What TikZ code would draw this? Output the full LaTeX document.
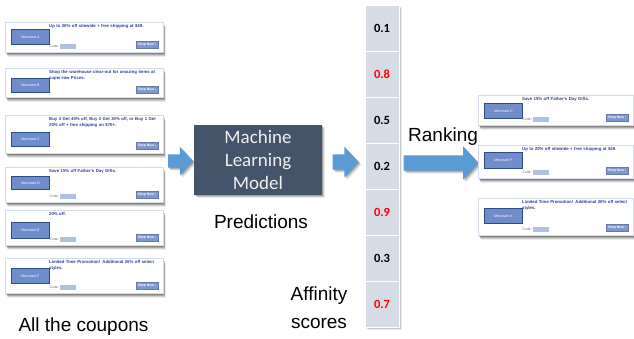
\documentclass[tikz,border=0pt]{standalone}
\usepackage{fontspec}
\setmainfont{Liberation Sans}
\newfontfamily\carlito{Carlito}
\usetikzlibrary{shapes.arrows,shadows,calc}
\definecolor{arrowblue}{HTML}{5B9BD5}
\definecolor{mlbox}{HTML}{44546A}
\definecolor{cellgray}{HTML}{D6DCE5}
\definecolor{numred}{HTML}{FF0000}
\definecolor{couponblue}{HTML}{2E3D99}
\definecolor{merchfill}{HTML}{6F8CCB}
\definecolor{merchdraw}{HTML}{2C4A8C}
\definecolor{shopfill}{HTML}{7D97CF}
\definecolor{codefill}{HTML}{AFC0E2}
\definecolor{cardborder}{HTML}{D5DBEA}
\newcommand{\cardw}{158}
% #1 name #2 x #3 y #4 h #5 merchant top offset #6 merchant h #7 letter #8 text #9 code flag
\newcommand{\coupon}[9]{%
  \node[card, minimum width=\cardw, minimum height=#4, anchor=north west] (#1) at (#2,#3) {};
  \node[merch, minimum height=#6, anchor=north west] (#1m) at (#2+6,#3+#5) {Merchant #7};
  \node[ctext, anchor=north west] (#1t) at (#2+44,#3+2.5) {#8};
  \node[shop, anchor=south east] (#1s) at (#2+\cardw-5,#3+#4-4) {Shop Now ›};
  \ifnum#9=1
    \node[codelbl, anchor=south west] (#1c) at (#2+44,#3+#4-4) {Code:};
    \node[codebox, anchor=west] (#1cb) at (#1c.east) {};
  \fi
}
\tikzset{
  softshadow/.style={
    drop shadow={shadow xshift=2.5pt, shadow yshift=-5pt, fill=black, opacity=0.08},
    drop shadow={shadow xshift=2pt, shadow yshift=-4pt, fill=black, opacity=0.12},
    drop shadow={shadow xshift=1.5pt, shadow yshift=-3pt, fill=black, opacity=0.18},
    drop shadow={shadow xshift=1pt, shadow yshift=-2pt, fill=black, opacity=0.22}},
  card/.style={draw=cardborder, line width=0.5pt, fill=white, inner sep=0, softshadow},
  merch/.style={draw=merchdraw, line width=0.7pt, fill=merchfill, minimum width=38, inner sep=0,
    font=\fontsize{3.6}{4}\selectfont, text=white},
  ctext/.style={inner sep=0, text width=110, align=left, text=couponblue,
    font=\fontsize{4.3}{5.3}\selectfont\bfseries},
  shop/.style={fill=shopfill, draw=shopfill!80!black, line width=0.3pt, minimum width=22, minimum height=7, inner sep=0,
    font=\fontsize{3.4}{4}\selectfont\bfseries, text=white},
  codelbl/.style={inner sep=0.5pt, text=black!60, font=\fontsize{3.4}{3.8}\selectfont},
  codebox/.style={fill=codefill, minimum width=16, minimum height=5, inner sep=0},
  boxshadow/.style={
    drop shadow={shadow xshift=3pt, shadow yshift=-3pt, fill=black, opacity=0.08},
    drop shadow={shadow xshift=2pt, shadow yshift=-2pt, fill=black, opacity=0.15},
    drop shadow={shadow xshift=1pt, shadow yshift=-1pt, fill=black, opacity=0.2}},
  fatarrow/.style={single arrow, fill=arrowblue, inner xsep=0, single arrow tip angle=94, boxshadow},
  cell/.style={fill=cellgray, draw=white, line width=0.8pt, minimum width=34, minimum height=46, inner sep=0,
    font=\carlito\bfseries\fontsize{12.5}{14}\selectfont},
  label/.style={inner sep=0, font=\fontsize{19}{28}\selectfont, align=center},
}
\begin{document}
\begin{tikzpicture}[x=1pt,y=-1pt]
\useasboundingbox[fill=white] (0,0) rectangle (634,339);
% left coupons
\coupon{cA}{5}{22}{30}{7}{15}{A}{Up to 20\% off sitewide + free shipping at \$49.}{1}
\coupon{cB}{5}{68}{29}{10}{14}{B}{Shop the warehouse clear-out for amazing items at super-low Prices.}{0}
\coupon{cC}{5}{115}{38}{17}{14}{C}{Buy 3 Get 40\% off, Buy 2 Get 30\% off, or Buy 1 Get 20\% off + free shipping on \$70+.}{0}
\coupon{cD}{5}{167}{35}{9}{13}{D}{Save 15\% off Father's Day Gifts.}{1}
\coupon{cE}{5}{210}{35}{12}{16}{E}{20\% off.}{1}
\coupon{cF}{5}{258}{35}{10}{15}{F}{Limited Time Promotion! Additional 20\% off select styles.}{1}
\node[label, anchor=base] (all) at (83.5,331) {All the coupons};
% arrow 1
\node[fatarrow, inner ysep=6.5, minimum height=25, single arrow head extend=7.5] (a1) at (177.5,161) {};
% ML model
\node[fill=mlbox, minimum width=128, minimum height=70, inner sep=0, text=white!94!black,
  font=\carlito\fontsize{19}{23}\selectfont, align=center, boxshadow] (ml) at (258,160)
  {Machine\\Learning\\Model};
\node[label, anchor=base] (pred) at (261,228) {Predictions};
% arrow 2
\node[fatarrow, inner ysep=7.5, minimum height=26, single arrow head extend=7.5] (a2) at (342,162) {};
% score column
\node[fill=cellgray, minimum width=34, minimum height=322, inner sep=0, anchor=north west,
  boxshadow] (col) at (365,5) {};
\node[cell] (s1) at (382,28) {0.1};
\node[cell, text=numred] (s2) at (382,74) {0.8};
\node[cell] (s3) at (382,120) {0.5};
\node[cell] (s4) at (382,166) {0.2};
\node[cell, text=numred] (s5) at (382,212) {0.9};
\node[cell] (s6) at (382,258) {0.3};
\node[cell, text=numred] (s7) at (382,304) {0.7};
\node[label, anchor=base] (aff) at (319,328) {Affinity\\scores};
% ranking
\node[label, anchor=base west] (rank) at (408,142) {Ranking};
\node[fatarrow, inner ysep=7.5, minimum height=75, single arrow head extend=9] (a3) at (437.5,163) {};
% right coupons
\renewcommand{\cardw}{155}
\coupon{rC}{478}{95}{30}{8}{15}{C}{Save 15\% off Father's Day Gifts.}{1}
\coupon{rF}{478}{145}{33}{7}{16}{F}{Up to 20\% off sitewide + free shipping at \$49.}{1}
\coupon{rA}{478}{198}{37}{10}{15}{A}{Limited Time Promotion! Additional 20\% off select styles.}{1}
\end{tikzpicture}
\end{document}
